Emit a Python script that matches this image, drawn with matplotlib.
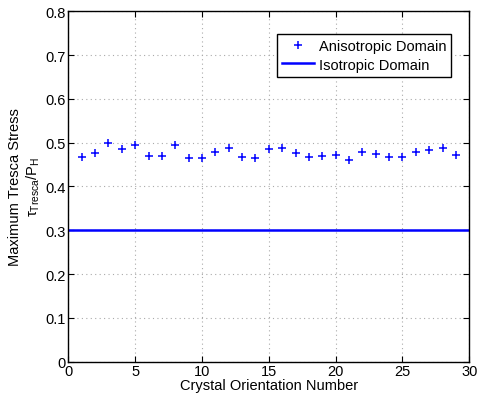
import numpy as np
import matplotlib
matplotlib.use('Agg')
import matplotlib.pyplot as plt

plt.rcParams['font.family'] = ['Liberation Sans', 'DejaVu Sans']
plt.rcParams['mathtext.fontset'] = 'custom'
plt.rcParams['mathtext.rm'] = 'Liberation Sans'
plt.rcParams['mathtext.it'] = 'Liberation Sans'
plt.rcParams['mathtext.sf'] = 'Liberation Sans'

# Crystal orientation numbers and max Tresca stress (anisotropic)
orientation = np.arange(1, 30)
tresca_aniso = [0.468, 0.477, 0.500, 0.486, 0.494, 0.470, 0.470, 0.495, 0.466, 0.466,
                0.479, 0.487, 0.467, 0.465, 0.486, 0.488, 0.476, 0.467, 0.470, 0.473,
                0.460, 0.479, 0.474, 0.467, 0.467, 0.478, 0.484, 0.487, 0.473]
tresca_iso = 0.3

fig = plt.figure(figsize=(4.82, 4.02), dpi=100)
ax = fig.add_axes([0.1417, 0.0978, 0.832, 0.8716])

ax.plot(orientation, tresca_aniso, '+', color='blue', markersize=5.5, markeredgewidth=1.1,
        label='Anisotropic Domain')
ax.axhline(tresca_iso, color='blue', linewidth=1.8, label='Isotropic Domain')

ax.set_xlim(0, 30)
ax.set_ylim(0, 0.8)
ax.set_xticks(np.arange(0, 31, 5))
ax.set_yticks(np.arange(0, 0.81, 0.1))
ax.set_yticklabels(['0', '0.1', '0.2', '0.3', '0.4', '0.5', '0.6', '0.7', '0.8'])
ax.tick_params(direction='in', top=True, right=True, labelsize=10.5, length=4, pad=2)
ax.grid(True, linestyle=(0, (1, 3)), color='#aaaaaa', linewidth=0.8)
for s in ax.spines.values():
    s.set_linewidth(1.0)

ax.set_xlabel('Crystal Orientation Number', fontsize=10.5, labelpad=0)
ax.set_ylabel('Maximum Tresca Stress\n' + r'$\tau_{Tresca}/P_H$', fontsize=10.5, labelpad=2)

leg = ax.legend(loc='upper right', bbox_to_anchor=(0.955, 0.935), fontsize=10.5,
                fancybox=False, framealpha=1, edgecolor='black', handlelength=2.2,
                handletextpad=0.3, borderpad=0.35, labelspacing=0.3, borderaxespad=0)
leg.get_frame().set_linewidth(1.0)

plt.savefig('out.png', dpi=100)
